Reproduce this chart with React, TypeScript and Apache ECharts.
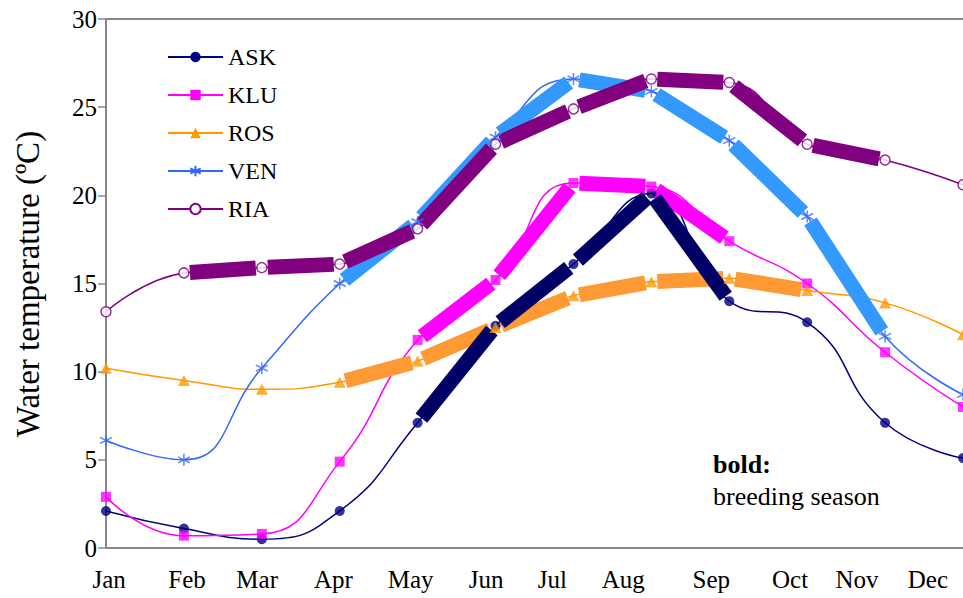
import React, { useEffect, useRef } from 'react';
import * as echarts from 'echarts';

const MONTHS = ['Jan', 'Feb', 'Mar', 'Apr', 'May', 'Jun', 'Jul', 'Aug', 'Sep', 'Oct', 'Nov', 'Dec'];
// where each month label sits along the month axis (in month units)
const MONTH_LABEL_POS = [0.04, 1.04, 1.94, 2.92, 3.91, 4.88, 5.73, 6.64, 7.77, 8.78, 9.64, 10.55];

const ASK = [2.1, 1.1, 0.5, 2.1, 7.1, 12.6, 16.1, 20.1, 14.0, 12.8, 7.1, 5.1];
const KLU = [2.9, 0.7, 0.8, 4.9, 11.8, 15.2, 20.7, 20.5, 17.4, 15.0, 11.1, 8.0];
const ROS = [10.2, 9.5, 9.0, 9.4, 10.6, 12.5, 14.3, 15.1, 15.3, 14.6, 13.9, 12.1];
const VEN = [6.1, 5.0, 10.2, 15.0, 18.5, 23.3, 26.6, 25.9, 23.1, 18.8, 12.0, 8.7];
const RIA = [13.4, 15.6, 15.9, 16.1, 18.1, 22.9, 24.9, 26.6, 26.4, 22.9, 22.0, 20.6];

// breeding season: [first month index, last month index]
const ASK_BREEDING = [4, 8];
const KLU_BREEDING = [4, 8];
const ROS_BREEDING = [3, 9];
const VEN_BREEDING = [3, 10];
const RIA_BREEDING = [1, 10];

const FONT = 'Liberation Serif';
const ASTERISK = 'path://M5,0L5,10M0.67,2.5L9.33,7.5M0.67,7.5L9.33,2.5';

type Station = {
  name: string;
  vals: number[];
  breeding: number[];
  thin: string;
  thick: string;
  symbol: string;
  size: number | number[];
  itemStyle: any;
};

const STATIONS: Station[] = [
  { name: 'ASK', vals: ASK, breeding: ASK_BREEDING, thin: '#000080', thick: '#000066', symbol: 'circle', size: 10, itemStyle: { color: '#000080' } },
  { name: 'KLU', vals: KLU, breeding: KLU_BREEDING, thin: '#FF00FF', thick: '#FF00FF', symbol: 'rect', size: 10, itemStyle: { color: '#FF00FF' } },
  { name: 'ROS', vals: ROS, breeding: ROS_BREEDING, thin: '#FF9900', thick: '#FF9933', symbol: 'triangle', size: [12, 11], itemStyle: { color: '#FF9900' } },
  { name: 'VEN', vals: VEN, breeding: VEN_BREEDING, thin: '#3366FF', thick: '#3399FF', symbol: ASTERISK, size: 12, itemStyle: { color: 'none', borderColor: '#3366FF', borderWidth: 1.5 } },
  { name: 'RIA', vals: RIA, breeding: RIA_BREEDING, thin: '#800080', thick: '#800080', symbol: 'circle', size: 10, itemStyle: { color: '#FFFFFF', borderColor: '#800080', borderWidth: 1.5 } },
];

const THICK_ORDER = ['ROS', 'KLU', 'ASK', 'VEN', 'RIA'];
const GAP = 6;
const THICK_WIDTH = 15;

function thickSeries(s: Station) {
  const data: number[][] = [];
  for (let i = s.breeding[0]; i < s.breeding[1]; i++) data.push([i, s.vals[i], i + 1, s.vals[i + 1]]);
  return {
    type: 'custom',
    name: s.name + ' breeding',
    z: 3,
    silent: true,
    encode: { x: [0, 2], y: [1, 3] },
    renderItem: (_params: any, api: any) => {
      const a = api.coord([api.value(0), api.value(1)]);
      const b = api.coord([api.value(2), api.value(3)]);
      const dx = b[0] - a[0];
      const dy = b[1] - a[1];
      const len = Math.hypot(dx, dy) || 1;
      const g = GAP / len;
      return {
        type: 'line',
        shape: { x1: a[0] + dx * g, y1: a[1] + dy * g, x2: b[0] - dx * g, y2: b[1] - dy * g },
        style: { stroke: s.thick, lineWidth: THICK_WIDTH, lineCap: 'butt' },
      };
    },
    data,
  };
}

export default function App() {
  const ref = useRef<HTMLDivElement>(null);
  useEffect(() => {
    if (!ref.current) return;
    const chart = echarts.init(ref.current, null, { renderer: 'svg' });
    const series: any[] = [];
    STATIONS.forEach((s) => {
      series.push({
        type: 'line',
        name: s.name,
        data: s.vals.map((v, i) => [i, v]),
        smooth: 0.5,
        showSymbol: false,
        symbol: s.symbol,
        symbolSize: s.size,
        lineStyle: { color: s.thin, width: 1.5 },
        itemStyle: s.itemStyle,
        z: 2,
        silent: true,
      });
    });
    THICK_ORDER.forEach((n) => series.push(thickSeries(STATIONS.find((s) => s.name === n)!)));
    STATIONS.forEach((s) => {
      series.push({
        type: 'scatter',
        name: s.name + ' points',
        data: s.vals.map((v, i) => [i, v]),
        symbol: s.symbol,
        symbolSize: s.size,
        itemStyle: s.itemStyle,
        z: 4,
        silent: true,
        clip: false,
      });
    });

    chart.setOption({
      animation: false,
      backgroundColor: '#ffffff',
      textStyle: { fontFamily: FONT },
      grid: { left: 106, right: 0, top: 19, bottom: 50, containLabel: false },
      legend: {
        data: STATIONS.map((s) => s.name),
        orient: 'vertical',
        left: 162,
        top: 40,
        itemWidth: 55,
        itemHeight: 13,
        itemGap: 14,
        selectedMode: false,
        textStyle: { fontFamily: FONT, fontSize: 24, color: '#000' },
      },
      xAxis: [
        {
          type: 'value',
          min: 0,
          max: 11,
          axisLine: { show: true, lineStyle: { color: '#888', width: 2 } },
          axisTick: { show: false },
          splitLine: { show: false },
          axisLabel: {
            customValues: MONTH_LABEL_POS,
            margin: 19,
            fontFamily: FONT,
            fontSize: 25,
            color: '#000',
            formatter: (v: number) => {
              let best = 0;
              MONTH_LABEL_POS.forEach((p, i) => {
                if (Math.abs(p - v) < Math.abs(MONTH_LABEL_POS[best] - v)) best = i;
              });
              return MONTHS[best];
            },
          },
        },
        {
          type: 'value',
          position: 'top',
          min: 0,
          max: 11,
          axisLine: { show: true, lineStyle: { color: '#888', width: 2 } },
          axisTick: { show: false },
          axisLabel: { show: false },
          splitLine: { show: false },
        },
      ],
      yAxis: {
        type: 'value',
        min: 0,
        max: 30,
        interval: 5,
        axisLine: { show: true, lineStyle: { color: '#888', width: 2 } },
        axisTick: { show: true, length: 8, lineStyle: { color: '#888', width: 1.5 } },
        splitLine: { show: false },
        axisLabel: { margin: 9, fontFamily: FONT, fontSize: 25, color: '#000' },
      },
      graphic: [
        {
          type: 'text',
          x: 28,
          y: 284,
          rotation: Math.PI / 2,
          style: {
            text: 'Water temperature (ºC)',
            fontFamily: FONT,
            fontSize: 33,
            fill: '#000',
            align: 'center',
            verticalAlign: 'middle',
          },
        },
        {
          type: 'text',
          left: 713,
          top: 451,
          style: { text: 'bold:', fontFamily: FONT, fontSize: 26, fontWeight: 'bold', fill: '#000' },
        },
        {
          type: 'text',
          left: 713,
          top: 483,
          style: { text: 'breeding season', fontFamily: FONT, fontSize: 26, fill: '#000' },
        },
      ],
      series,
    });
    return () => chart.dispose();
  }, []);
  return (
    <div
      ref={ref}
      style={{ position: 'fixed', left: 0, top: 0, width: 963, height: 598, background: '#fff' }}
    />
  );
}
